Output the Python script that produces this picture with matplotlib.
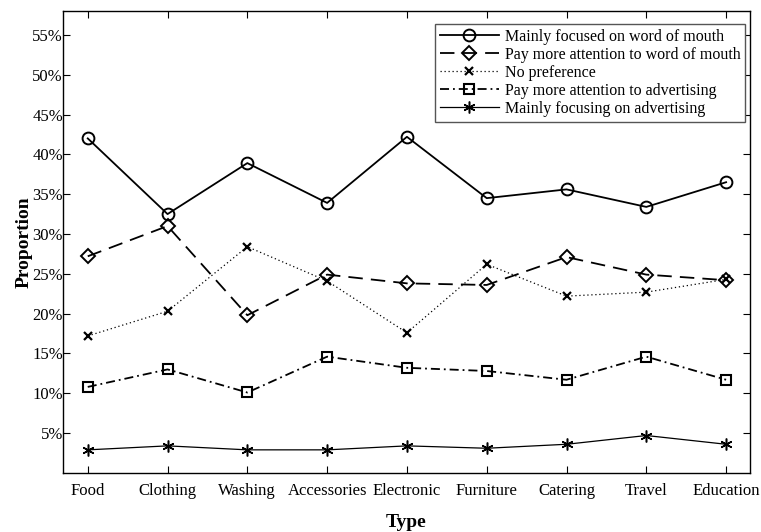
import numpy as np
import matplotlib
matplotlib.use('Agg')
import matplotlib.pyplot as plt
from matplotlib.ticker import FuncFormatter

plt.rcParams['font.family'] = ['Liberation Serif', 'DejaVu Serif']

types = ['Food', 'Clothing', 'Washing', 'Accessories', 'Electronic',
         'Furniture', 'Catering', 'Travel', 'Education']

# proportions in percent
mainly_wom = [42.0, 32.5, 38.9, 33.9, 42.2, 34.5, 35.6, 33.4, 36.5]
more_wom = [27.2, 31.0, 19.8, 24.9, 23.8, 23.6, 27.1, 24.9, 24.2]
no_pref = [17.2, 20.3, 28.4, 24.1, 17.6, 26.2, 22.2, 22.7, 24.3]
more_ad = [10.8, 13.0, 10.1, 14.6, 13.2, 12.8, 11.7, 14.6, 11.7]
mainly_ad = [2.9, 3.4, 2.9, 2.9, 3.4, 3.1, 3.6, 4.7, 3.6]

labels = ['Mainly focused on word of mouth',
          'Pay more attention to word of mouth',
          'No preference',
          'Pay more attention to advertising',
          'Mainly focusing on advertising']

fig = plt.figure(figsize=(7.61, 5.32), dpi=100)
ax = fig.add_axes([0.0828, 0.111, 0.9028, 0.8684])

x = np.arange(len(types))
asterisk = (6, 2, 0)

ax.plot(x, mainly_wom, '-', color='k', lw=1.3, marker='o', ms=8.5,
        mfc='none', mew=1.4, label=labels[0])
ax.plot(x, more_wom, color='k', lw=1.3, ls=(0, (8, 4.5)), marker='D', ms=7,
        mfc='none', mew=1.4, label=labels[1])
ax.plot(x, no_pref, color='k', lw=0.9, ls=(0, (1, 2.2)), marker='x', ms=6,
        mew=1.6, label=labels[2])
ax.plot(x, more_ad, color='k', lw=1.3, ls=(0, (5, 2.2, 1, 2.2)), marker='s', ms=6.5,
        mfc='none', mew=1.5, label=labels[3])
ax.plot(x, mainly_ad, '-', color='k', lw=0.9, marker=asterisk, ms=8.5,
        mew=1.1, label=labels[4])

ax.set_xlim(-0.31, 8.30)
ax.set_ylim(0, 58)
ax.set_xticks(x)
ax.set_xticklabels(types)
ax.set_yticks(np.arange(5, 56, 5))
ax.yaxis.set_major_formatter(FuncFormatter(lambda v, p: '%d%%' % v))
ax.tick_params(direction='in', top=True, right=True, length=5, labelsize=12)
ax.tick_params(axis='x', pad=7)
ax.tick_params(axis='y', pad=0)
for s in ax.spines.values():
    s.set_linewidth(1.0)

ax.set_xlabel('Type', fontsize=14, fontweight='bold', labelpad=11)
ax.set_ylabel('Proportion', fontsize=14, fontweight='bold', labelpad=0)

leg = ax.legend(loc='upper right', fontsize=11.5, fancybox=False, handlelength=3.7,
                borderpad=0.3, labelspacing=0.13, handletextpad=0.37,
                bbox_to_anchor=(0.993, 0.972), borderaxespad=0.0)
leg.get_frame().set_edgecolor('#555555')
leg.get_frame().set_linewidth(1.0)
leg.get_frame().set_alpha(1.0)

fig.savefig('out.png', dpi=100)
